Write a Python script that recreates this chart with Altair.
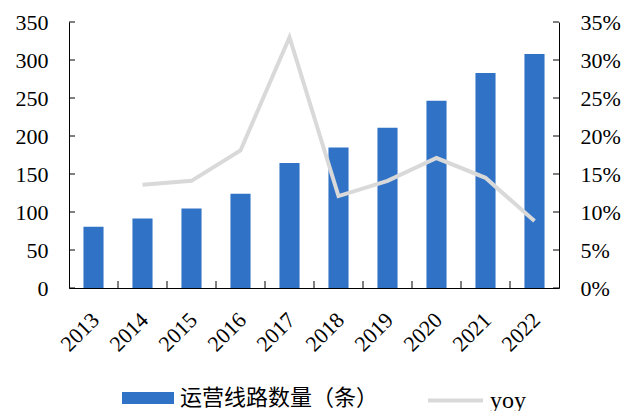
import altair as alt
import pandas as pd

years = ["2013", "2014", "2015", "2016", "2017", "2018", "2019", "2020", "2021", "2022"]
lines = [80.5, 91.5, 104.5, 124, 164.5, 185, 211, 246.5, 283, 308]
yoy_pct = [None, 13.6, 14.1, 18.1, 33.0, 12.1, 14.1, 17.1, 14.5, 8.8]
left_ticks = [0, 50, 100, 150, 200, 250, 300, 350]
right_ticks = [0, 0.05, 0.10, 0.15, 0.20, 0.25, 0.30, 0.35]
bar_name = "运营线路数量（条）"
line_name = "yoy"

bar_df = pd.DataFrame({"year": years, "lines": lines, "series": bar_name})
line_df = pd.DataFrame({"year": years[1:], "yoy": [v / 100 for v in yoy_pct[1:]], "series": line_name})
xtick_df = pd.DataFrame({"year": years[1:]})
lt_df = pd.DataFrame({"v": left_ticks})
rt_df = pd.DataFrame({"v": right_ticks})

FONT = "'Liberation Serif', 'Noto Sans CJK SC', serif"
W, H = 490, 266

x_scale = alt.Scale(domain=years, paddingInner=0, paddingOuter=0)
x_axis = alt.Axis(title=None, labelAngle=-45, ticks=False, domainColor="black",
                  labelFontSize=22, labelPadding=21, labelOffset=-5,
                  labelColor="black", labelFont=FONT)
yl_scale = alt.Scale(domain=[0, 350], nice=False)
yr_scale = alt.Scale(domain=[0, 0.35], nice=False)
yl_axis = alt.Axis(title=None, values=left_ticks, ticks=False, grid=False,
                   domainColor="black", labelFontSize=22, labelPadding=21,
                   labelColor="black", labelFont=FONT)
yr_axis = alt.Axis(title=None, orient="right", values=right_ticks, format=".0%",
                   ticks=False, grid=False, domainColor="black", labelFontSize=22,
                   labelPadding=21, labelColor="black", labelFont=FONT)

bars = alt.Chart(bar_df).mark_bar(width=alt.RelativeBandSize(0.41)).encode(
    x=alt.X("year:N", scale=x_scale, axis=x_axis),
    y=alt.Y("lines:Q", scale=yl_scale, axis=yl_axis),
    fill=alt.Fill("series:N", scale=alt.Scale(domain=[bar_name], range=["#3073C6"]),
                  legend=alt.Legend(title=None, orient="none", legendX=53, legendY=350,
                                    symbolType="M-1,-0.23L1,-0.23L1,0.23L-1,0.23Z",
                                    symbolSize=2704, symbolStrokeWidth=0, labelLimit=400,
                                    labelFontSize=22, labelFont=FONT, labelColor="black",
                                    labelOffset=6)),
)

left_ticks_layer = alt.Chart(lt_df).mark_rule(color="black", strokeWidth=1).encode(
    y=alt.Y("v:Q", scale=yl_scale, axis=yl_axis),
    x=alt.value(0), x2=alt.value(6),
)

xticks_layer = alt.Chart(xtick_df).mark_rule(color="black", strokeWidth=1).encode(
    x=alt.X("year:N", scale=x_scale, bandPosition=0, axis=x_axis),
    y=alt.value(H - 7), y2=alt.value(H),
)

line = alt.Chart(line_df).mark_line(strokeWidth=4).encode(
    x=alt.X("year:N", scale=x_scale, axis=x_axis),
    y=alt.Y("yoy:Q", scale=yr_scale, axis=yr_axis),
    stroke=alt.Stroke("series:N", scale=alt.Scale(domain=[line_name], range=["#D9D9D9"]),
                      legend=alt.Legend(title=None, orient="none", legendX=357, legendY=349,
                                        symbolType="stroke", symbolSize=3025,
                                        symbolStrokeWidth=4, labelLimit=400,
                                        labelFontSize=24, labelFont=FONT, labelColor="black",
                                        labelOffset=5)),
)

right_ticks_layer = alt.Chart(rt_df).mark_rule(color="black", strokeWidth=1).encode(
    y=alt.Y("v:Q", scale=yr_scale, axis=yr_axis),
    x=alt.value(W - 6), x2=alt.value(W),
)

left = alt.layer(bars, left_ticks_layer, xticks_layer)
right = alt.layer(line, right_ticks_layer)

chart = alt.layer(left, right).resolve_scale(y="independent").properties(
    width=W, height=H,
    autosize=alt.AutoSizeParams(type="none"),
    padding={"left": 69, "top": 22, "right": 63, "bottom": 123},
    background="white",
).configure_view(stroke=None)

chart.save("out.html", embed_options={"renderer": "svg", "actions": False})
